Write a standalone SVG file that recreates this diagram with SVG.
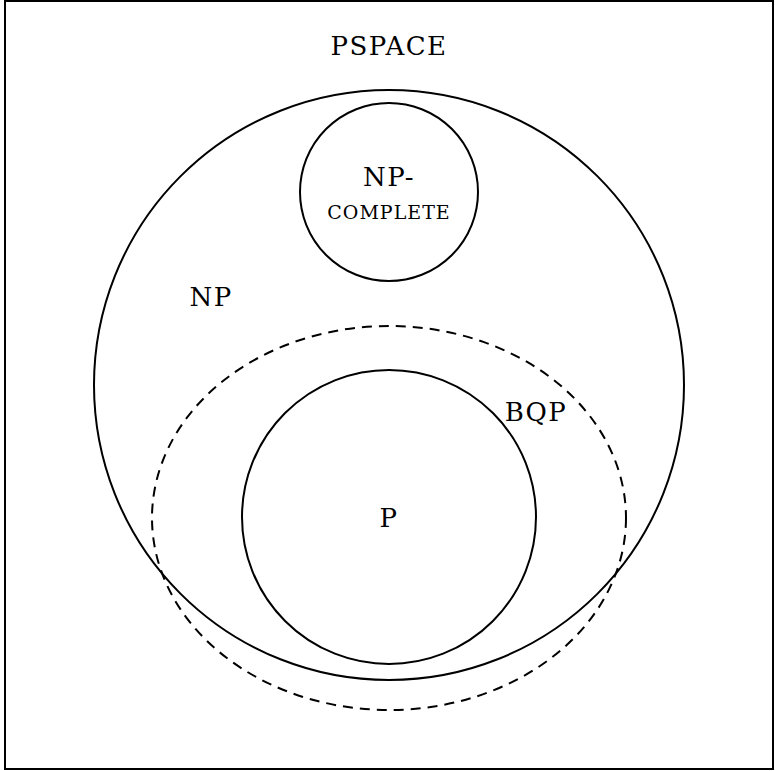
<svg xmlns="http://www.w3.org/2000/svg" width="775" height="771" viewBox="0 0 775 771">
<style>
.s{fill:none;stroke:#000;stroke-width:2}
.t{font-family:"DejaVu Serif","Liberation Serif",serif;font-size:26px;text-anchor:middle;fill:#000;letter-spacing:1.5px}
.c{font-size:19px;letter-spacing:1px}
</style>
<rect x="0" y="0" width="775" height="771" fill="#fff"/>
<g id="connectors"></g>
<g id="pspace"><rect class="s" x="5" y="1" width="768" height="768"/><text class="t" x="389" y="55">PSPACE</text></g>
<g id="np"><circle class="s" cx="389" cy="385" r="295"/><text class="t" x="211" y="306">NP</text></g>
<g id="npc"><circle class="s" cx="389" cy="192" r="89"/><text class="t" x="389" y="186">NP-</text><text class="t c" x="389" y="219">COMPLETE</text></g>
<g id="bqp"><ellipse class="s" cx="389" cy="518" rx="237" ry="192" stroke-dasharray="10,7"/><text class="t" x="536" y="421">BQP</text></g>
<g id="p"><circle class="s" cx="389" cy="517" r="147"/><text class="t" x="389" y="527">P</text></g>
</svg>
